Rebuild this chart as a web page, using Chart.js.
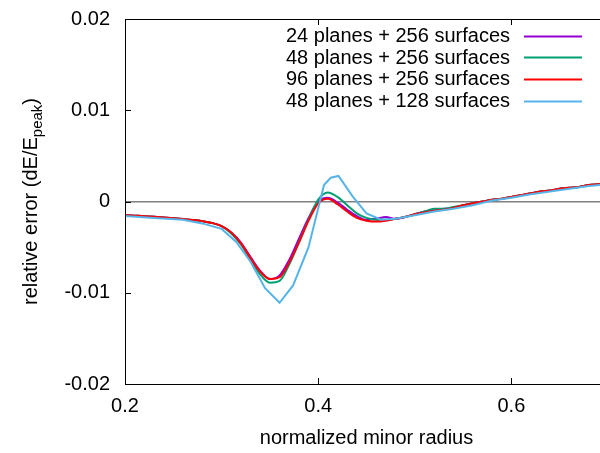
<!DOCTYPE html>
<html>
<head>
<meta charset="utf-8">
<script src="https://cdn.jsdelivr.net/npm/chart.js@4.4.0/dist/chart.umd.min.js"></script>
<style>
html, body { margin: 0; padding: 0; overflow: hidden; background: #fff; }
#wrap { width: 608px; height: 453px; }
</style>
</head>
<body>
<div id="wrap"><canvas id="chart"></canvas></div>
<script>
// minor radius grid of the fine runs
const radius = [0.20, 0.21, 0.22, 0.23, 0.24, 0.25, 0.26, 0.27, 0.28, 0.29,
                0.30, 0.31, 0.32, 0.33, 0.34, 0.35, 0.36, 0.37, 0.38, 0.39,
                0.40, 0.41, 0.42, 0.43, 0.44, 0.45, 0.46, 0.47, 0.48, 0.49,
                0.50, 0.51, 0.52, 0.53, 0.54, 0.55, 0.56, 0.57, 0.58, 0.59,
                0.60, 0.61, 0.62, 0.63, 0.64, 0.65, 0.66, 0.67, 0.68, 0.69, 0.70];

const err24p256s = [-0.00148, -0.00155, -0.00162, -0.00168, -0.00175, -0.00183, -0.00192, -0.00202, -0.00215, -0.00235,
                    -0.0027, -0.0034, -0.0045, -0.0061, -0.0076, -0.0085, -0.0081, -0.0064, -0.0041, -0.0018,
                    0.0000, 0.0004, -0.0001, -0.0009, -0.0016, -0.0020, -0.0019, -0.0017, -0.0019, -0.0017,
                    -0.0014, -0.0011, -0.0010, -0.0008, -0.0007, -0.0004, -0.0002, 0.0000, 0.0002, 0.0003,
                    0.0005, 0.0007, 0.0009, 0.0011, 0.0012, 0.0014, 0.0015, 0.0016, 0.0018, 0.0019, 0.0020];

const err48p256s = [-0.00148, -0.00155, -0.00162, -0.00168, -0.00175, -0.00183, -0.00192, -0.00202, -0.00215, -0.00235,
                    -0.0027, -0.0035, -0.0047, -0.0064, -0.0080, -0.0089, -0.0087, -0.0069, -0.0045, -0.0020,
                    0.0002, 0.0010, 0.0005, -0.0004, -0.0013, -0.0018, -0.0020, -0.0020, -0.0019, -0.0017,
                    -0.0014, -0.0011, -0.0008, -0.0008, -0.0006, -0.0004, -0.0002, 0.0000, 0.0002, 0.0003,
                    0.0005, 0.0007, 0.0009, 0.0011, 0.0012, 0.0014, 0.0015, 0.0016, 0.0018, 0.0019, 0.0020];

const err96p256s = [-0.00148, -0.00155, -0.00162, -0.00168, -0.00175, -0.00183, -0.00192, -0.00202, -0.00215, -0.00235,
                    -0.0027, -0.0034, -0.0046, -0.0062, -0.0077, -0.0085, -0.0083, -0.0067, -0.0045, -0.0021,
                    -0.0002, 0.0003, -0.0003, -0.0011, -0.0018, -0.0021, -0.0022, -0.0021, -0.0019, -0.0017,
                    -0.0014, -0.0012, -0.0010, -0.0009, -0.0007, -0.0004, -0.0002, 0.0000, 0.0002, 0.0003,
                    0.0005, 0.0007, 0.0009, 0.0011, 0.0012, 0.0014, 0.0015, 0.0016, 0.0018, 0.0019, 0.0020];

// coarser run has its own radius points
const radius128 = [0.20, 0.23, 0.26, 0.28, 0.30, 0.315, 0.33, 0.345, 0.36, 0.374,
                   0.39, 0.406, 0.413, 0.421, 0.436, 0.45, 0.465, 0.48, 0.50, 0.52,
                   0.54, 0.56, 0.58, 0.60, 0.62, 0.64, 0.66, 0.68, 0.70];
const err48p128s = [-0.0016, -0.0018, -0.0020, -0.0024, -0.0030, -0.0044, -0.0066, -0.0095, -0.0111, -0.0092,
                    -0.0050, 0.0018, 0.0026, 0.0028, 0.0005, -0.0013, -0.0020, -0.0019, -0.0015, -0.0011,
                    -0.0008, -0.0004, 0.0001, 0.0004, 0.0008, 0.0011, 0.0014, 0.0017, 0.0019];

const seriesNames = ['24 planes + 256 surfaces', '48 planes + 256 surfaces',
                     '96 planes + 256 surfaces', '48 planes + 128 surfaces'];
const seriesColors = ['#9400d3', '#009e73', '#ff0000', '#56b4e9'];
const xTicks = [0.2, 0.4, 0.6];
const yTicks = [-0.02, -0.01, 0, 0.01, 0.02];

const FONT = 'Liberation Sans, Arial, sans-serif';

function pts(xs, ys) {
    return xs.map((x, i) => ({x: x, y: ys[i]}));
}

// frame, inward ticks, y title with subscript, legend
const decor = {
    id: 'decor',
    afterDraw(chart) {
        const ctx = chart.ctx;
        const a = chart.chartArea;
        const xs = chart.scales.x, ys = chart.scales.y;
        ctx.save();
        ctx.strokeStyle = '#000';
        ctx.lineWidth = 1;
        ctx.strokeRect(a.left + 0.5, a.top + 0.5, a.right - a.left, a.bottom - a.top);
        ctx.beginPath();
        xTicks.forEach(v => {
            const px = Math.round(xs.getPixelForValue(v)) + 0.5;
            ctx.moveTo(px, a.bottom); ctx.lineTo(px, a.bottom - 6);
            ctx.moveTo(px, a.top); ctx.lineTo(px, a.top + 6);
        });
        yTicks.forEach(v => {
            const py = Math.round(ys.getPixelForValue(v)) + 0.5;
            ctx.moveTo(a.left, py); ctx.lineTo(a.left + 6, py);
        });
        ctx.stroke();

        // y axis title
        ctx.fillStyle = '#000';
        ctx.textBaseline = 'alphabetic';
        ctx.textAlign = 'left';
        const main = 'relative error (dE/E', sub = 'peak', tail = ')';
        ctx.font = '20px ' + FONT;
        const w1 = ctx.measureText(main).width, w3 = ctx.measureText(tail).width;
        ctx.font = '15px ' + FONT;
        const w2 = ctx.measureText(sub).width;
        ctx.translate(37, (a.top + a.bottom) / 2);
        ctx.rotate(-Math.PI / 2);
        let sx = -(w1 + w2 + w3) / 2;
        ctx.font = '20px ' + FONT;
        ctx.fillText(main, sx, 0);
        ctx.font = '15px ' + FONT;
        ctx.fillText(sub, sx + w1, 5);
        ctx.font = '20px ' + FONT;
        ctx.fillText(tail, sx + w1 + w2, 0);
        ctx.restore();

        // legend
        ctx.save();
        ctx.font = '20px ' + FONT;
        ctx.textAlign = 'right';
        ctx.textBaseline = 'middle';
        chart.data.datasets.forEach((ds, i) => {
            const y = 35.5 + i * 21.7;
            ctx.fillStyle = '#000';
            ctx.fillText(ds.label, 510, y + 1);
            ctx.strokeStyle = ds.borderColor;
            ctx.lineWidth = 2;
            ctx.beginPath();
            ctx.moveTo(524, Math.round(y) + 0.5);
            ctx.lineTo(582, Math.round(y) + 0.5);
            ctx.stroke();
        });
        ctx.restore();
    }
};

const allY = [err24p256s, err48p256s, err96p256s];
const datasets = allY.map((ys, i) => ({
    label: seriesNames[i],
    data: pts(radius, ys),
    borderColor: seriesColors[i],
    borderWidth: 2,
    pointRadius: 0,
    cubicInterpolationMode: 'monotone',
    order: 4 - i
}));
datasets.push({
    label: seriesNames[3],
    data: pts(radius128, err48p128s),
    borderColor: seriesColors[3],
    borderWidth: 2,
    pointRadius: 0,
    tension: 0,
    order: 1
});

new Chart(document.getElementById('chart'), {
    type: 'line',
    data: {datasets: datasets},
    options: {
        responsive: true,
        maintainAspectRatio: false,
        animation: false,
        layout: {padding: {top: 19, left: 0, right: 0, bottom: 0}},
        plugins: {legend: {display: false}, tooltip: {enabled: false}},
        scales: {
            x: {
                type: 'linear',
                min: 0.2, max: 0.7,
                afterFit(s) { s.height = 69; s.paddingLeft = 0; s.paddingRight = 0; },
                border: {display: false},
                grid: {display: false, drawTicks: false},
                ticks: {
                    stepSize: 0.2, includeBounds: false, autoSkip: false, maxRotation: 0,
                    padding: 10, color: '#000',
                    font: {family: FONT, size: 20},
                    callback: v => v.toFixed(1)
                },
                title: {
                    display: true, text: 'normalized minor radius', color: '#000',
                    font: {family: FONT, size: 20}, padding: {top: 0, bottom: 3}
                }
            },
            y: {
                min: -0.02, max: 0.02,
                afterFit(s) { s.width = 125; s.paddingTop = 0; s.paddingBottom = 0; },
                border: {display: false},
                grid: {
                    drawTicks: false,
                    lineWidth: 1.5,
                    color: c => (c.tick && Math.abs(c.tick.value) < 1e-9) ? '#808080' : 'rgba(0,0,0,0)'
                },
                ticks: {
                    stepSize: 0.01, padding: 15, color: '#000',
                    font: {family: FONT, size: 20},
                    callback: v => Math.abs(v) < 1e-9 ? '0' : v.toFixed(2)
                }
            }
        }
    },
    plugins: [decor]
});
</script>
</body>
</html>
